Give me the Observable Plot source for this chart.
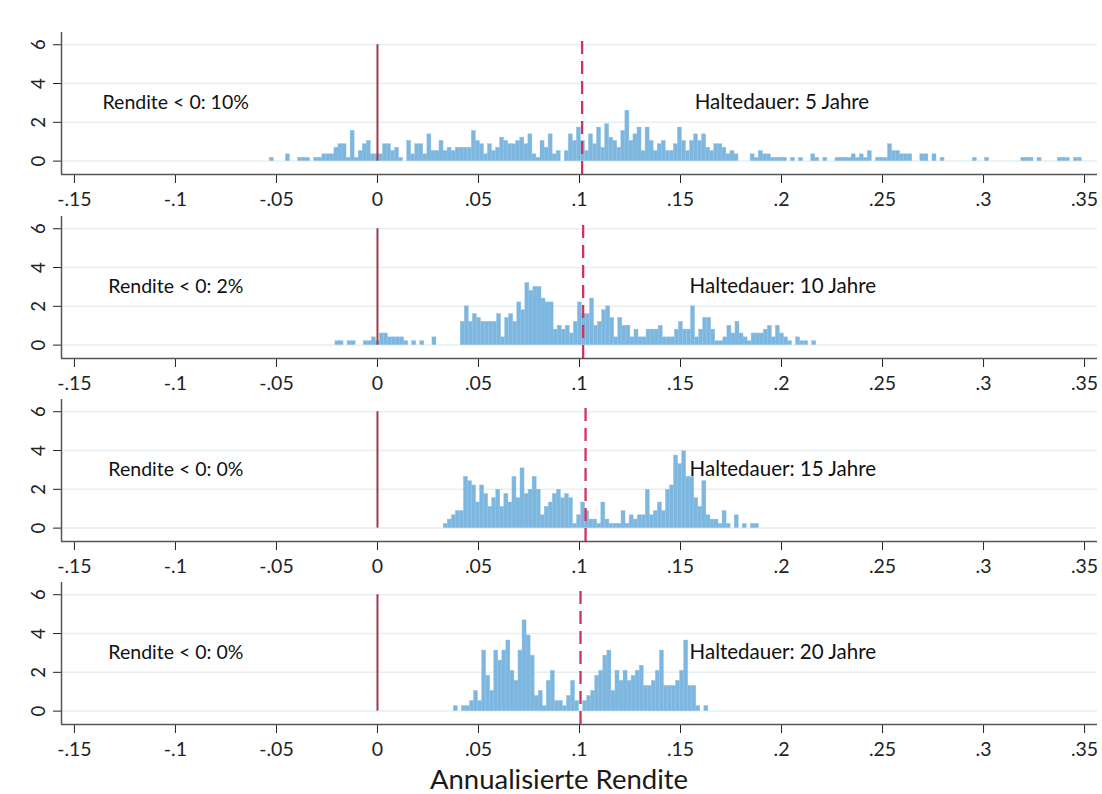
<!DOCTYPE html>
<html><head><meta charset="utf-8">
<script src="https://cdn.jsdelivr.net/npm/d3@7"></script>
<script src="https://cdn.jsdelivr.net/npm/@observablehq/plot@0.6"></script>
<style>
body{margin:0;background:#fff;font-family:Lato,sans-serif;}
#wrap{position:relative;width:1102px;height:794px;overflow:hidden;background:#fff;}
.panel{position:absolute;left:0;}
#xtitle{position:absolute;left:0;width:1118px;text-align:center;top:763px;font-size:27.5px;line-height:32px;color:#1a1a1a;font-family:Lato,sans-serif;}
</style></head><body><div id="wrap"><div id="xtitle">Annualisierte Rendite</div></div>
<script>
// ---- data ----
const binWidth = 0.002;
const holdLabels = ["Haltedauer: 5 Jahre", "Haltedauer: 10 Jahre", "Haltedauer: 15 Jahre", "Haltedauer: 20 Jahre"];
const negShareLabels = ["Rendite < 0: 10%", "Rendite < 0: 2%", "Rendite < 0: 0%", "Rendite < 0: 0%"];
const binStarts = [-0.0533, -0.0208, 0.0328, 0.0378];
const meanReturns = [0.1013, 0.1018, 0.1030, 0.1005];
const xTicks = [-0.15, -0.1, -0.05, 0, 0.05, 0.1, 0.15, 0.2, 0.25, 0.3, 0.35];
const yTicks = [0, 2, 4, 6];
const negLabelX = [-0.1361, -0.1332, -0.1332, -0.1332];
const holdLabelX = [0.157, 0.1545, 0.1545, 0.1545];

const heights5 = [
 0.17,0,0,0,0.35,0,0,0.17,0.17,0.17,
 0,0.17,0.17,0.35,0.35,0.35,0.69,0.87,0.87,0.17,
 1.56,0.17,0.52,0.87,1.04,0.35,0.35,0.35,0.87,0.87,
 0.52,0.69,0.17,0,1.04,0.35,0.87,0.87,0.35,1.38,
 0.52,0.52,1.04,0.52,0.69,0.52,0.69,0.69,0.69,0.69,
 1.56,1.04,0.87,0.35,0.87,0.52,0.69,1.21,1.04,0.87,
 0.87,1.04,1.21,0.87,1.38,0.35,0.17,1.04,0.69,1.38,
 0.35,0.52,0,0.52,1.38,1.04,1.73,1.04,0.52,1.38,
 0.87,1.73,0.69,1.9,1.21,1.04,0.69,1.56,2.6,1.04,
 1.38,1.73,0.52,1.73,1.04,0.52,0.87,1.04,0.52,0.52,
 0.87,1.73,1.04,0.52,1.04,1.38,1.04,1.38,0.69,0.52,
 0.87,0.87,0.69,0.35,0.52,0.35,0,0,0,0.35,
 0.17,0.52,0.35,0.35,0.17,0.17,0.17,0.17,0,0.17,
 0,0.17,0,0,0.35,0.17,0,0.17,0,0,
 0.17,0.17,0.17,0.17,0.35,0.17,0.35,0.17,0.52,0,
 0.17,0.17,0.17,0.87,0.52,0.52,0.35,0.35,0.35,0,
 0,0.35,0.35,0,0.35,0,0.17,0,0,0,
 0,0,0,0,0.17,0,0,0.17,0,0,
 0,0,0,0,0,0,0.17,0.17,0.17,0,
 0.17,0,0,0,0,0.17,0.17,0.17,0,0.17,
 0.17];
const heights10 = [
 0.2,0.2,0,0.2,0.2,0,0,0.2,0.2,0.4,
 0.2,0.6,0.6,0.4,0.4,0.4,0.4,0.2,0,0.2,
 0,0.2,0,0,0.4,0,0,0,0,0,
 0,1.2,2.0,1.2,1.6,1.4,1.2,1.2,1.2,1.2,
 1.6,0.4,1.4,1.6,1.2,2.2,1.8,3.2,2.8,3.0,
 3.0,2.4,2.2,2.2,0.8,1.0,0.8,1.0,0.6,1.2,
 2.2,1.6,1.6,2.4,1.0,1.2,1.8,2.0,1.4,0.4,
 1.4,1.0,1.0,0.4,0.8,0.4,0.4,0.8,0.8,0.8,
 1.0,0.4,0.4,0.4,0.8,1.2,0.8,0.8,2.0,0.4,
 0.8,1.4,1.4,0.8,0.2,0.2,0.4,1.0,0.6,1.2,
 0.6,0.4,0.2,0.6,0.6,0.6,0.8,1.0,0.4,1.0,
 0.6,0.4,0.2,0,0.4,0.2,0.2,0,0.2];
const heights15 = [
 0.22,0.44,0.66,0.88,0.88,2.64,2.42,2.2,1.32,2.2,
 1.76,1.1,1.54,1.98,1.1,1.76,1.32,2.64,1.54,3.08,
 1.76,1.98,2.64,1.98,0.66,1.1,1.32,1.76,1.98,1.54,
 1.76,1.54,0.22,0.66,1.32,0.88,0.44,0.44,0.22,1.32,
 0.44,0.22,0.22,0.22,0.88,0.22,0.66,0.44,0.66,0.66,
 1.98,0.66,0.88,1.32,0.88,1.98,2.2,3.74,3.3,3.96,
 2.64,2.64,1.54,1.1,2.42,0.66,0.44,0.44,0.22,0.88,
 0.22,0,0.66,0,0.22,0,0.22,0.22];
const heights20 = [
 0.26,0,0.26,0.26,0.52,1.04,0.52,3.12,1.82,1.04,
 3.12,2.6,3.12,3.64,2.08,1.56,3.12,4.68,3.9,2.86,
 0.78,1.04,0.26,1.56,2.08,0.52,0.52,0.26,0.78,1.56,
 0.52,0,0.52,0.78,1.04,1.82,2.08,2.86,3.12,1.04,
 2.08,1.56,2.08,1.56,1.82,2.08,2.34,1.3,1.3,1.56,
 2.08,3.12,1.3,1.3,1.3,1.56,2.08,3.64,1.3,1.3,
 0.26,0,0.26];
const allHeights = [heights5, heights10, heights15, heights20];

// ---- drawing ----
const xDomain = [-0.1564, 0.3564];
const yDomain = [-0.69, 6.63];
const fmtTick = d => d === 0 ? "0" : String(+d.toFixed(2)).replace("0.", ".");
const wrap = document.getElementById("wrap");

allHeights.forEach((hs, p) => {
  const bins = hs.map((h, i) => ({
    x1: binStarts[p] + i * binWidth,
    x2: binStarts[p] + (i + 1) * binWidth,
    h
  })).filter(d => d.h > 0);
  const chart = Plot.plot({
    width: 1102, height: 183,
    marginLeft: 61, marginRight: 5, marginTop: 2, marginBottom: 39,
    style: {fontFamily: "Lato, sans-serif", background: "transparent", overflow: "visible"},
    x: {domain: xDomain},
    y: {domain: yDomain},
    marks: [
      Plot.ruleY(yTicks, {stroke: "#e6eff2", strokeWidth: 1.5}),
      Plot.rectY(bins, {x1: "x1", x2: "x2", y1: 0, y2: "h", fill: "#7db7df", stroke: "#8cc0e4", strokeWidth: 0.4}),
      Plot.ruleX([0], {y1: 0, y2: 6, stroke: "#9e3a47", strokeWidth: 2}),
      Plot.ruleX([meanReturns[p]], {y1: -0.69, y2: 6.3, stroke: "#d3325c", strokeWidth: 2.3, strokeDasharray: "13,7"}),
      Plot.text([{x: negLabelX[p], y: 3, t: negShareLabels[p]}], {x: "x", y: "y", text: "t", textAnchor: "start", fontSize: 19.5, fill: "#111"}),
      Plot.text([{x: holdLabelX[p], y: 3, t: holdLabels[p]}], {x: "x", y: "y", text: "t", textAnchor: "start", fontSize: 20.5, fill: "#111"}),
      Plot.axisX({ticks: xTicks, tickFormat: fmtTick, tickSize: 9, tickPadding: 9, fontSize: 19.5, color: "#222", label: null}),
      Plot.axisY({ticks: yTicks, tickFormat: d => String(d), tickSize: 8, tickPadding: 9, tickRotate: -90, fontSize: 18.5, color: "#222", label: null}),
      Plot.ruleX([xDomain[0]], {stroke: "#555", strokeWidth: 1.5}),
      Plot.ruleY([yDomain[0]], {stroke: "#555", strokeWidth: 1.5})
    ]
  });
  chart.classList.add("panel");
  chart.style.top = (30.1 + 183.4 * p) + "px";
  wrap.appendChild(chart);
});
</script>
</body></html>
